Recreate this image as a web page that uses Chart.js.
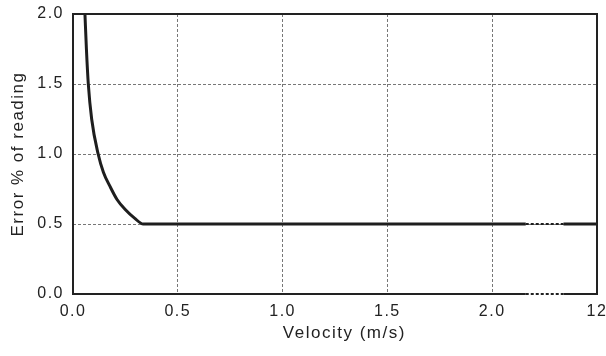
<!DOCTYPE html>
<html>
<head>
<meta charset="utf-8">
<script src="https://cdn.jsdelivr.net/npm/chart.js@4/dist/chart.umd.min.js"></script>
<style>
  html, body { margin: 0; padding: 0; background: #fff; }
  #wrap { width: 606px; height: 356px; }
</style>
</head>
<body>
<div id="wrap"><canvas id="myChart" width="606" height="356"></canvas></div>
<script>
// datos
var velocity = [0.057, 0.064, 0.073, 0.089, 0.120, 0.145, 0.176, 0.210, 0.248, 0.295, 0.335, 2.16, 2.34, 2.5];
var errorPct = [2.0, 1.75, 1.5, 1.25, 1.0, 0.87, 0.77, 0.675, 0.605, 0.54, 0.50, 0.50, 0.50, 0.50];

var xTickValues = [0, 0.5, 1.0, 1.5, 2.0, 2.5];
var xTickLabels = ['0.0', '0.5', '1.0', '1.5', '2.0', '12'];
var yTickValues = [0, 0.5, 1.0, 1.5, 2.0];
var yTickLabels = ['0.0', '0.5', '1.0', '1.5', '2.0'];

// tramo cortado del eje (de 2.x a 12)
var xBreak = [2.16, 2.34];

var puntos = [];
for (var i = 0; i < velocity.length; i++) {
    puntos.push({ x: velocity[i], y: errorPct[i] });
}

var fuente = "'Liberation Sans', Arial, Helvetica, sans-serif";

// espaciado de letras como en la original
var letrasPlugin = {
    id: 'letras',
    beforeInit: function (chart) { chart.ctx.letterSpacing = '1.5px'; },
    beforeLayout: function (chart) { chart.ctx.letterSpacing = '1.5px'; },
    beforeDraw: function (chart) { chart.ctx.letterSpacing = '1.5px'; }
};

// marco con el corte punteado abajo
var marcoPlugin = {
    id: 'marco',
    afterDatasetsDraw: function (chart) {
        var ctx = chart.ctx;
        var a = chart.chartArea;
        var xs = chart.scales.x;
        var b1 = xs.getPixelForValue(xBreak[0]);
        var b2 = xs.getPixelForValue(xBreak[1]);
        ctx.save();
        ctx.strokeStyle = '#222';
        ctx.lineWidth = 2;
        ctx.lineCap = 'butt';
        ctx.beginPath();
        ctx.moveTo(b1, a.bottom);
        ctx.lineTo(a.left, a.bottom);
        ctx.lineTo(a.left, a.top);
        ctx.lineTo(a.right, a.top);
        ctx.lineTo(a.right, a.bottom);
        ctx.lineTo(b2, a.bottom);
        ctx.stroke();
        ctx.setLineDash([3, 2]);
        ctx.beginPath();
        ctx.moveTo(b1, a.bottom);
        ctx.lineTo(b2, a.bottom);
        ctx.stroke();
        ctx.restore();
    }
};

function enCorte(ctx) {
    var x0 = ctx.p0.parsed.x;
    return (x0 >= xBreak[0] && x0 < xBreak[1]);
}

var grafica = new Chart(document.getElementById('myChart'), {
    type: 'line',
    data: {
        datasets: [{
            data: puntos,
            borderColor: '#1e1e1e',
            borderWidth: 3,
            pointRadius: 0,
            fill: false,
            cubicInterpolationMode: 'monotone',
            segment: {
                borderDash: function (ctx) { return enCorte(ctx) ? [3, 2] : undefined; },
                borderWidth: function (ctx) { return enCorte(ctx) ? 2 : undefined; }
            }
        }]
    },
    options: {
        responsive: false,
        animation: false,
        devicePixelRatio: 1,
        layout: { padding: { left: 0, right: 9, top: 14, bottom: 0 } },
        plugins: {
            legend: { display: false },
            tooltip: { enabled: false }
        },
        scales: {
            x: {
                type: 'linear',
                min: 0,
                max: 2.5,
                afterBuildTicks: function (scale) {
                    scale.ticks = xTickValues.map(function (v) { return { value: v }; });
                },
                afterFit: function (scale) {
                    scale.height = 62;
                    scale.paddingLeft = 0;
                    scale.paddingRight = 0;
                },
                ticks: {
                    callback: function (value) {
                        var k = xTickValues.indexOf(value);
                        return k >= 0 ? xTickLabels[k] : '';
                    },
                    color: '#222',
                    font: { family: fuente, size: 16 },
                    padding: 8,
                    maxRotation: 0
                },
                border: { display: false, dash: [3, 2] },
                grid: {
                    color: function (ctx) {
                        var v = ctx.tick ? ctx.tick.value : 0;
                        return (v > 0 && v < 2.5) ? '#777' : 'rgba(0,0,0,0)';
                    },
                    lineWidth: 1,
                    drawTicks: false
                },
                title: {
                    display: true,
                    // espacios al inicio para correr el titulo a la derecha como en la original
                    text: '\u00a0\u00a0\u00a0Velocity (m/s)',
                    color: '#222',
                    font: { family: fuente, size: 17 },
                    padding: { top: 4, bottom: 12 }
                }
            },
            y: {
                min: 0,
                max: 2.0,
                afterBuildTicks: function (scale) {
                    scale.ticks = yTickValues.map(function (v) { return { value: v }; });
                },
                afterFit: function (scale) {
                    scale.width = 73;
                    scale.paddingTop = 0;
                    scale.paddingBottom = 0;
                },
                ticks: {
                    callback: function (value) {
                        var k = yTickValues.indexOf(value);
                        return k >= 0 ? yTickLabels[k] : '';
                    },
                    color: '#222',
                    font: { family: fuente, size: 16 },
                    padding: 9
                },
                border: { display: false, dash: [3, 2] },
                grid: {
                    color: function (ctx) {
                        var v = ctx.tick ? ctx.tick.value : 0;
                        return (v > 0 && v < 2.0) ? '#777' : 'rgba(0,0,0,0)';
                    },
                    lineWidth: 1,
                    drawTicks: false
                },
                title: {
                    display: true,
                    text: 'Error % of reading',
                    color: '#222',
                    font: { family: fuente, size: 17 },
                    padding: { top: 8, bottom: 2 }
                }
            }
        }
    },
    plugins: [letrasPlugin, marcoPlugin]
});
</script>
</body>
</html>
